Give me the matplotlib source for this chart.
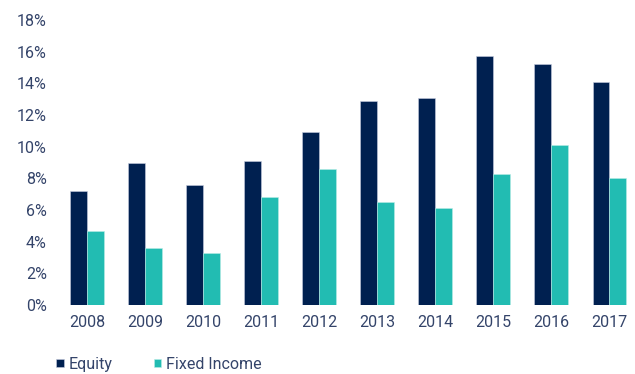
import matplotlib.pyplot as plt
import numpy as np
from matplotlib.ticker import FuncFormatter

plt.rcParams['font.family'] = ['Roboto', 'DejaVu Sans']

# annual returns, percent
years = ['2008', '2009', '2010', '2011', '2012', '2013', '2014', '2015', '2016', '2017']
equity = [7.2, 9.0, 7.6, 9.1, 10.9, 12.9, 13.1, 15.7, 15.2, 14.1]
fixed_income = [4.7, 3.6, 3.3, 6.8, 8.6, 6.5, 6.1, 8.3, 10.1, 8.0]

navy = '#002050'
teal = '#22bcb2'
label_color = '#34446a'

fig = plt.figure(figsize=(6.35, 3.74), dpi=100)
ax = fig.add_axes([58 / 635, 69 / 374, 575 / 635, 285 / 374])

x = np.arange(len(years))
w = 0.288
ax.bar(x - w / 2, equity, width=w, color=navy, edgecolor='#c8cde0', linewidth=0.4, label='Equity')
ax.bar(x + w / 2, fixed_income, width=w, color=teal, edgecolor='#b8ece6', linewidth=0.4, label='Fixed Income')

ax.set_xlim(-0.5, 9.41)
ax.set_ylim(0, 18)
ax.set_yticks(range(0, 19, 2))
ax.yaxis.set_major_formatter(FuncFormatter(lambda v, p: f'{v:.0f}%'))
ax.set_xticks(x)
ax.set_xticklabels(years)

for s in ax.spines.values():
    s.set_visible(False)
ax.tick_params(axis='both', length=0, labelsize=11.5, labelcolor=label_color)
ax.tick_params(axis='y', pad=8)
ax.tick_params(axis='x', pad=7)

leg = ax.legend(loc='lower left', bbox_to_anchor=(50 / 635, -4 / 374), bbox_transform=fig.transFigure,
                ncol=2, frameon=False, fontsize=11.5,
                handlelength=0.45, handleheight=0.45,
                handletextpad=0.3, columnspacing=2.6, borderaxespad=0)
for t in leg.get_texts():
    t.set_color(label_color)

fig.savefig('out.png', dpi=100)
